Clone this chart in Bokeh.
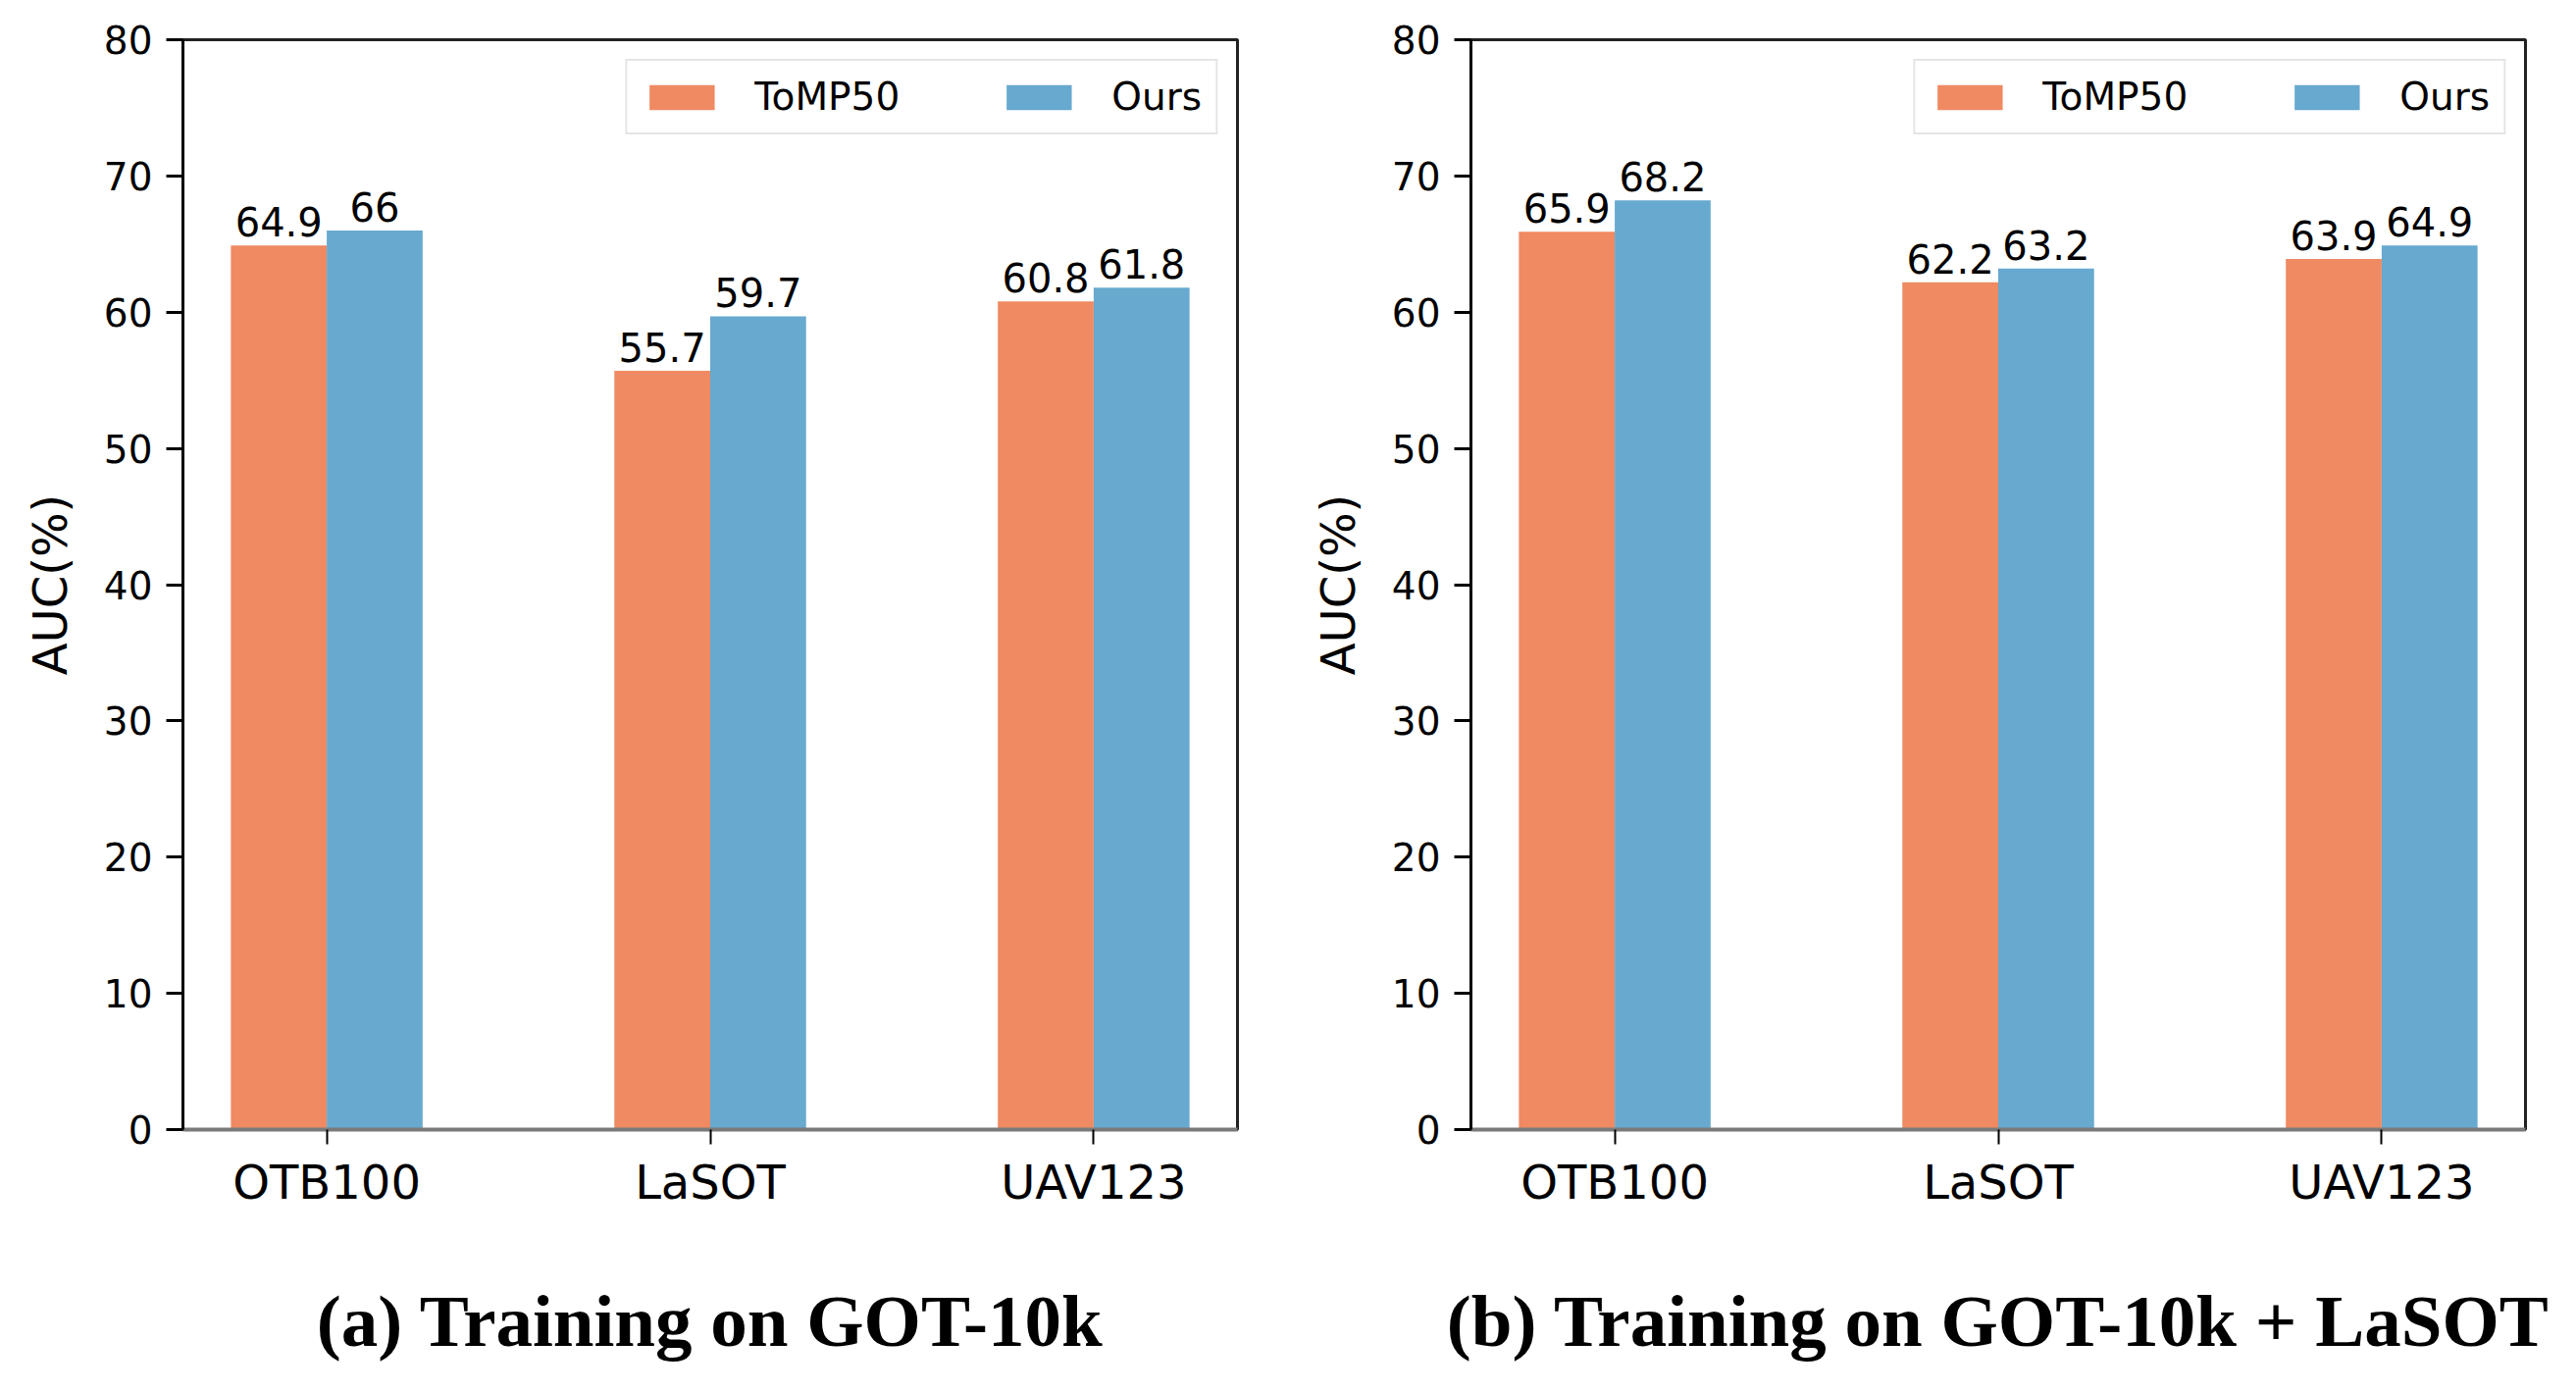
from bokeh.plotting import figure
from bokeh.models import (ColumnDataSource, Range1d, FixedTicker, Legend, LegendItem,
                          LabelSet)
from bokeh.layouts import row
from bokeh.transform import dodge
from bokeh.core.properties import value
from bokeh.embed import file_html
from bokeh.resources import INLINE

categories = ["OTB100", "LaSOT", "UAV123"]
series_names = ["ToMP50", "Ours"]
tomp50_got10k = [64.9, 55.7, 60.8]
ours_got10k = [66.0, 59.7, 61.8]
tomp50_got10k_lasot = [65.9, 62.2, 63.9]
ours_got10k_lasot = [68.2, 63.2, 64.9]
y_ticks = [0, 10, 20, 30, 40, 50, 60, 70, 80]
captions = ["(a) Training on GOT-10k", "(b) Training on GOT-10k + LaSOT"]
colors = ["#ef8a62", "#67a9cf"]

SANS = "DejaVu Sans"
SERIF = "Liberation Serif"
FRAME_H = 1111


def fmt(v):
    return f"{v:g}"


def make_panel(tomp, ours, caption, border_left, border_right):
    n = len(categories)
    src = ColumnDataSource(dict(
        x=list(range(n)),
        tomp=tomp,
        ours=ours,
        tomp_label=[fmt(v) for v in tomp],
        ours_label=[fmt(v) for v in ours],
    ))
    p = figure(width=1305, height=1403,
               x_range=Range1d(-0.375, n - 1 + 0.375), y_range=Range1d(0, 80),
               output_backend="svg", toolbar_location=None,
               min_border_left=border_left, min_border_right=border_right,
               min_border_top=40, min_border_bottom=1403 - 40 - FRAME_H)
    p.background_fill_color = "white"
    p.border_fill_color = "white"
    p.outline_line_color = "#222222"
    p.outline_line_width = 3
    p.xgrid.visible = False
    p.ygrid.visible = False

    r1 = p.vbar(x=dodge("x", -0.125, range=p.x_range), top="tomp", width=0.25,
                source=src, fill_color=colors[0], line_color=None)
    r2 = p.vbar(x=dodge("x", 0.125, range=p.x_range), top="ours", width=0.25,
                source=src, fill_color=colors[1], line_color=None)

    for off, col, lab in [(-0.125, "tomp", "tomp_label"), (0.125, "ours", "ours_label")]:
        ls = LabelSet(x=dodge("x", off, range=p.x_range), y=col, text=lab, source=src,
                      text_align="center", text_baseline="alphabetic", y_offset=9,
                      text_font=value(SANS), text_font_size=value("40px"),
                      text_color="black")
        p.add_layout(ls)

    # x axis (caption carried as the axis label, below the category names)
    p.xaxis.ticker = FixedTicker(ticks=list(range(n)))
    p.xaxis.major_label_overrides = {i: c for i, c in enumerate(categories)}
    p.xaxis.minor_tick_line_color = None
    p.xaxis.major_tick_in = 0
    p.xaxis.major_tick_out = 15
    p.xaxis.major_tick_line_width = 2
    p.xaxis.major_tick_line_color = "black"
    p.xaxis.axis_line_color = "#7a7a7a"
    p.xaxis.axis_line_width = 4
    p.xaxis.major_label_text_font = SANS
    p.xaxis.major_label_text_font_size = "48px"
    p.xaxis.major_label_text_color = "black"
    p.xaxis.major_label_standoff = 10
    p.xaxis.axis_label = caption
    p.xaxis.axis_label_text_font = SERIF
    p.xaxis.axis_label_text_font_style = "bold"
    p.xaxis.axis_label_text_font_size = "75px"
    p.xaxis.axis_label_text_color = "black"
    p.xaxis.axis_label_standoff = 69

    p.yaxis.ticker = FixedTicker(ticks=y_ticks)
    p.yaxis.minor_tick_line_color = None
    p.yaxis.major_tick_in = 0
    p.yaxis.major_tick_out = 17
    p.yaxis.major_tick_line_width = 3
    p.yaxis.major_tick_line_color = "black"
    p.yaxis.axis_line_color = "black"
    p.yaxis.axis_line_width = 3
    p.yaxis.major_label_text_font = SANS
    p.yaxis.major_label_text_font_size = "39px"
    p.yaxis.major_label_text_color = "black"
    p.yaxis.major_label_standoff = 14
    p.yaxis.axis_label = "AUC(%)"
    p.yaxis.axis_label_text_font = SANS
    p.yaxis.axis_label_text_font_size = "48px"
    p.yaxis.axis_label_text_font_style = "normal"
    p.yaxis.axis_label_text_color = "black"
    p.yaxis.axis_label_standoff = 24

    legend = Legend(items=[LegendItem(label=series_names[0], renderers=[r1]),
                           LegendItem(label=series_names[1], renderers=[r2])],
                    location="top_right", orientation="horizontal",
                    margin=20, padding=14, spacing=100,
                    glyph_width=83, glyph_height=32, label_standoff=33,
                    label_text_font=SANS, label_text_font_size="39px",
                    label_text_color="black",
                    border_line_color="#cccccc", border_line_width=2,
                    background_fill_color="white", background_fill_alpha=0.9)
    p.add_layout(legend)
    return p


p1 = make_panel(tomp50_got10k, ours_got10k, captions[0], 186, 44)
p2 = make_panel(tomp50_got10k_lasot, ours_got10k_lasot, captions[1], 194, 36)
layout = row(p1, p2)

open("out.html", "w").write(file_html(layout, INLINE))
